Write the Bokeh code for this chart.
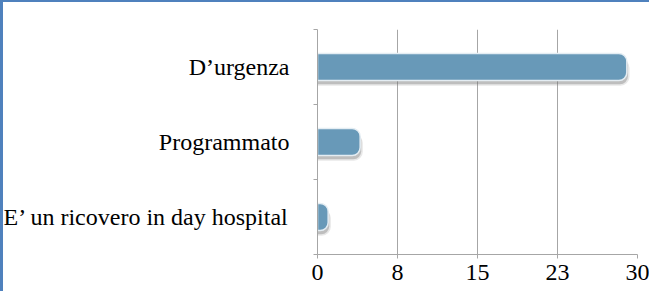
from bokeh.plotting import figure
from bokeh.models import FixedTicker, Range1d, ColumnDataSource
from bokeh.embed import file_html
from bokeh.resources import INLINE

categories = ["D’urgenza", "Programmato", "E’ un ricovero in day hospital"]
values = [29, 4, 1]
x_ticks = [0, 7.5, 15, 22.5, 30]
x_tick_labels = ["0", "8", "15", "23", "30"]

n = len(categories)
pos = [n - i - 0.5 for i in range(n)]
src = ColumnDataSource(dict(y=pos, right=values, cat=categories))
shadow_src = ColumnDataSource(dict(y=[p - 0.07 for p in pos], right=[v + 0.25 for v in values]))
shadow_src2 = ColumnDataSource(dict(y=[p - 0.05 for p in pos], right=[v + 0.1 for v in values]))

p = figure(width=649, height=291, output_backend="svg", toolbar_location=None,
           x_range=Range1d(0, 30), y_range=Range1d(0, n),
           min_border_left=313, min_border_top=29, min_border_right=12, min_border_bottom=37)
p.outline_line_color = None
p.background_fill_color = "white"
p.border_fill_color = None
p.styles = {"box-shadow": "inset 3px 2px 0 0 #4f81bd", "background-color": "white"}

# shadows
p.hbar(y="y", left=0, right="right", height=0.36, source=shadow_src, fill_color="#7f7f7f",
       fill_alpha=0.18, line_color=None, border_radius=(0, 9, 9, 0))
p.hbar(y="y", left=0, right="right", height=0.36, source=shadow_src2, fill_color="#6f6f6f",
       fill_alpha=0.35, line_color=None, border_radius=(0, 8, 8, 0))
# bars
p.hbar(y="y", left=0, right="right", height=0.36, source=src, fill_color="#6899b8",
       line_color="#e4edf3", line_width=1.5, border_radius=(0, 8, 8, 0))

grid_col = "#a6a6a6"
p.xgrid.ticker = FixedTicker(ticks=x_ticks)
p.xgrid.grid_line_color = grid_col
p.ygrid.grid_line_color = None

xa = p.xaxis[0]
xa.ticker = FixedTicker(ticks=x_ticks, minor_ticks=[])
xa.major_label_overrides = {t: l for t, l in zip(x_ticks, x_tick_labels)}
xa.axis_line_color = grid_col
xa.major_tick_line_color = grid_col
xa.major_tick_out = 4
xa.major_tick_in = 0
xa.major_label_standoff = 6
xa.major_label_text_font = "Liberation Serif"
xa.major_label_text_font_size = "24px"
xa.major_label_text_color = "black"

ya = p.yaxis[0]
ya.ticker = FixedTicker(ticks=pos, minor_ticks=list(range(n + 1)))
ya.major_label_overrides = {pp: c for pp, c in zip(pos, categories)}
ya.axis_line_color = grid_col
ya.major_tick_out = 0
ya.major_tick_in = 0
ya.minor_tick_out = 4
ya.minor_tick_in = 0
ya.minor_tick_line_color = grid_col
ya.major_label_standoff = 24
ya.major_label_text_font = "Liberation Serif"
ya.major_label_text_font_size = "24px"
ya.major_label_text_color = "black"

open("out.html", "w").write(file_html(p, INLINE))
